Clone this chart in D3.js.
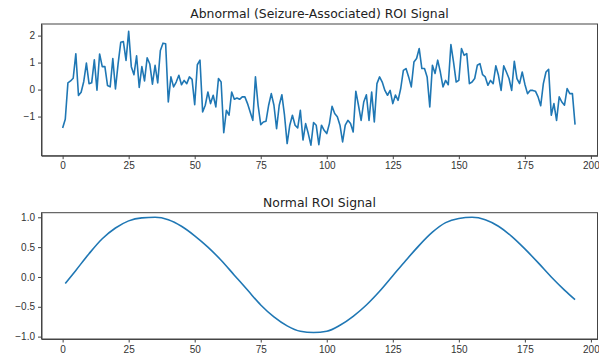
<!DOCTYPE html>
<html>
<head>
<meta charset="utf-8">
<script src="https://cdn.jsdelivr.net/npm/d3@7"></script>
<style>
  body { margin: 0; background: #fff; }
  svg { display: block; font-family: "DejaVu Sans", sans-serif; }
  .title { font-size: 12.4px; fill: #222; }
  .axis text { font-size: 10px; fill: #333; }
  .axis path, .axis line { stroke: #444; }
</style>
</head>
<body>
<div id="chart"></div>
<script>
// abnormal ROI signal, one value per frame (0..194)
var abnormalSignal = [
  -1.42,-1.1,0.25,0.32,0.42,1.33,-0.22,-0.1,0.3,0.98,
  0.22,0.25,1.1,-0.02,1.32,0.85,0.85,0.15,0.1,1.15,
  0.02,0.95,1.75,1.78,1.08,2.16,0.85,0.55,1.25,0.08,
  0.85,0.32,1.18,0.95,0.2,0.9,0.25,1.45,1.72,1.70,
  -0.46,0.47,0.1,0.28,0.53,0.18,0.34,0.22,0.47,0.38,
  -0.56,0.92,1.09,-0.83,-0.58,-0.09,-0.52,-0.21,-0.64,0.41,
  0.28,-1.6,-0.77,-0.95,-0.09,-0.36,-0.31,-0.36,-0.27,-0.27,
  -0.52,-0.83,-1.14,0.47,-0.58,-1.30,-1.2,-1.17,-0.58,-0.15,
  -0.58,-1.45,-0.58,-0.19,-0.95,-2.0,-1.32,-0.95,-1.32,-1.42,
  -0.77,-1.87,-1.26,-1.63,-2.06,-1.22,-1.32,-2.04,-1.32,-1.51,
  -1.63,-1.26,-0.62,-0.89,-1.01,-1.32,-1.94,-1.32,-1.14,-1.26,
  -1.57,-0.06,-0.58,-1.14,-0.46,-0.19,-1.14,-0.09,-1.2,0.22,
  0.47,0.28,-0.03,-0.21,-0.03,-0.52,-0.2,-0.4,0.04,0.71,
  0.78,0.47,0.1,1.02,1.15,1.52,0.78,0.78,0.47,-0.64,
  0.9,0.6,1.09,0.65,0.1,0.34,0.18,1.67,1.02,0.28,
  0.34,1.52,1.27,1.33,0.22,0.28,
  0.41,0.9,0.96,0.55,0.47,0.16,0.34,0.22,0.88,0.53,
  -0.03,0.88,0.65,0.41,-0.03,1.05,0.41,0.22,0.65,0.2,
  -0.15,-0.03,-0.03,-0.06,-0.27,-0.6,0.22,0.65,0.75,-0.95,
  -0.52,-1.14,-0.27,-0.46,-0.58,0.04,-0.15,-0.15,-1.3
];

// normal ROI signal
var normalX = [1,5,10,15,20,25,30,35,40,45,50,55,60,65,70,75,80,85,90,95,
  100,105,110,115,120,125,130,135,140,145,150,155,160,165,170,175,180,185,190,194];
var normalY = [-0.11,0.11,0.39,0.64,0.82,0.94,0.99,1.0,0.96,0.85,0.69,0.5,0.28,0.03,-0.22,-0.47,-0.67,-0.82,-0.91,-0.93,
  -0.91,-0.81,-0.66,-0.47,-0.24,0.02,0.28,0.53,0.75,0.91,0.98,1.0,0.96,0.85,0.68,0.47,0.24,0.0,-0.22,-0.38];

var xTicks = [0, 25, 50, 75, 100, 125, 150, 175, 200];
var topYTicks = [-1, 0, 1, 2];
var bottomYTicks = [-1.0, -0.5, 0.0, 0.5, 1.0];
var titles = ["Abnormal (Seizure-Associated) ROI Signal", "Normal ROI Signal"];

var W = 599, H = 360,
    left = 41.5, right = 597.5,
    color = "#1f77b4";

var svg = d3.select("#chart").append("svg")
  .attr("width", W)
  .attr("height", H);

var x = d3.scaleLinear().domain([-8, 202.5]).range([left, right]);

function panel(top, bottom, yDomain, yTicks, yFmt, title, data, curve) {
  var y = d3.scaleLinear().domain(yDomain).range([bottom, top]);

  svg.append("text")
    .attr("class", "title")
    .attr("x", (left + right) / 2)
    .attr("y", top - 6)
    .attr("text-anchor", "middle")
    .text(title);

  svg.append("g")
    .attr("class", "axis")
    .attr("transform", "translate(0," + bottom + ")")
    .call(d3.axisBottom(x).tickValues(xTicks).tickSizeInner(3.5).tickSizeOuter(0)
      .tickPadding(3).tickFormat(d3.format("d")));

  svg.append("g")
    .attr("class", "axis")
    .attr("transform", "translate(" + left + ",0)")
    .call(d3.axisLeft(y).tickValues(yTicks).tickSizeInner(3.5).tickSizeOuter(0)
      .tickPadding(3).tickFormat(yFmt));

  svg.append("rect")
    .attr("x", left).attr("y", top)
    .attr("width", right - left).attr("height", bottom - top)
    .attr("fill", "none")
    .attr("stroke", "#444");

  var line = d3.line()
    .x(function(d) { return x(d[0]); })
    .y(function(d) { return y(d[1]); })
    .curve(curve);

  svg.append("path")
    .datum(data)
    .attr("fill", "none")
    .attr("stroke", color)
    .attr("stroke-width", 1.6)
    .attr("stroke-linejoin", "round")
    .attr("d", line);
}

var topData = abnormalSignal.map(function(v, i) { return [i, v]; });
var bottomData = normalX.map(function(v, i) { return [v, normalY[i]]; });

panel(24, 155.7, [-2.45, 2.43], topYTicks, d3.format("d"), titles[0], topData, d3.curveLinear);
panel(212.7, 339, [-1.04, 1.077], bottomYTicks, d3.format(".1f"), titles[1], bottomData, d3.curveMonotoneX);
</script>
</body>
</html>
